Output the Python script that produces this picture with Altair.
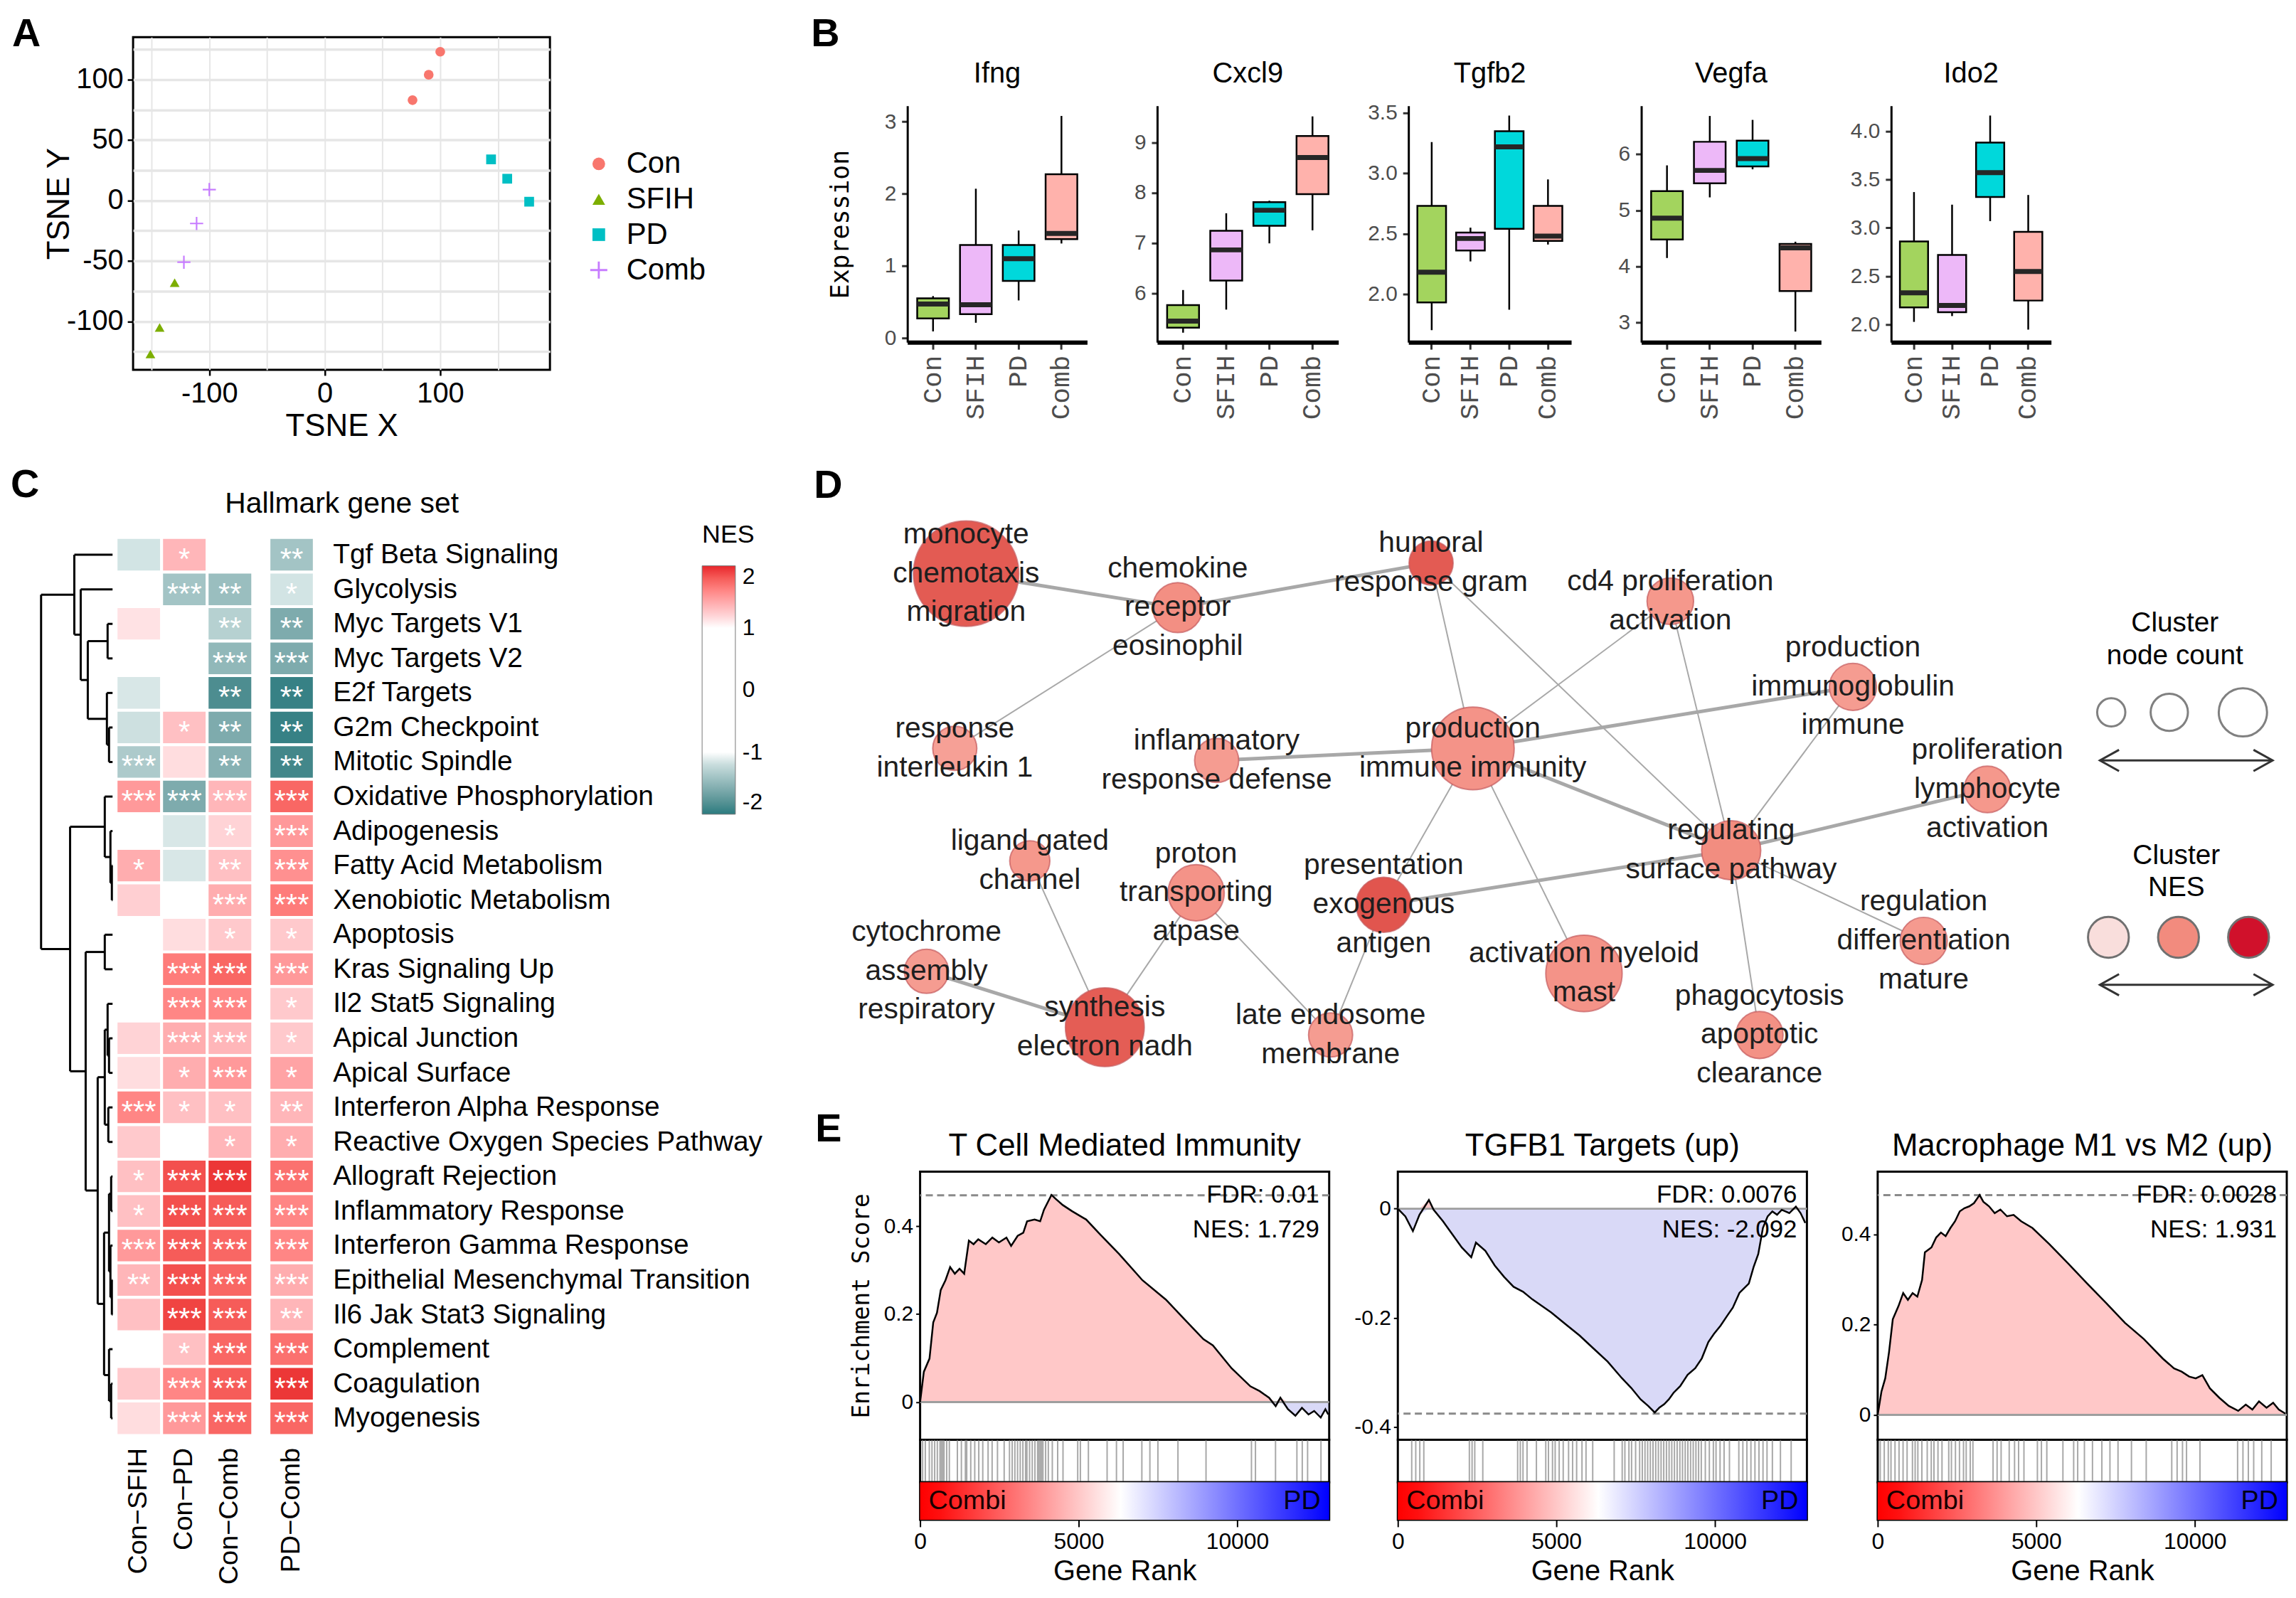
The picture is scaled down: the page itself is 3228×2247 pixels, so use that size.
import altair as alt
import pandas as pd

FONT = "Liberation Sans"
MONO = "Liberation Mono"
WIDE = "DejaVu Sans Mono"
ONE = pd.DataFrame({"v": [0]})

# ============================ DATA ============================
# ---- A: t-SNE ----
groups = ["Con", "SFIH", "PD", "Comb"]
tsne_group = ["Con", "Con", "Con", "SFIH", "SFIH", "SFIH", "PD", "PD", "PD", "Comb", "Comb", "Comb"]
tsne_x = [100, 90, 76, -151, -143, -130, 144, 158, 177, -100, -111, -122]
tsne_y = [123, 104, 83, -127, -105, -68, 34, 18, -1, 9, -19, -51]
tsne_colors = ["#F8766D", "#7CAE00", "#00BFC4", "#C77CFF"]

# ---- B: boxplots (order Con, SFIH, PD, Comb) ----
genes = ["Ifng", "Cxcl9", "Tgfb2", "Vegfa", "Ido2"]
box_lo = {"Ifng": [0.09, 0.21, 0.52, 1.31], "Cxcl9": [5.21, 5.67, 6.99, 7.25],
          "Tgfb2": [1.70, 2.27, 1.87, 2.41], "Vegfa": [4.15, 5.23, 5.73, 2.84],
          "Ido2": [2.03, 2.09, 3.07, 1.95]}
box_q1 = {"Ifng": [0.27, 0.33, 0.79, 1.37], "Cxcl9": [5.31, 6.25, 7.34, 7.97],
          "Tgfb2": [1.93, 2.36, 2.54, 2.44], "Vegfa": [4.48, 5.48, 5.78, 3.56],
          "Ido2": [2.18, 2.13, 3.32, 2.25]}
box_med = {"Ifng": [0.47, 0.46, 1.10, 1.45], "Cxcl9": [5.44, 6.86, 7.65, 8.70],
           "Tgfb2": [2.18, 2.46, 3.22, 2.48], "Vegfa": [4.86, 5.71, 5.92, 4.33],
           "Ido2": [2.33, 2.20, 3.57, 2.55]}
box_q3 = {"Ifng": [0.55, 1.29, 1.29, 2.27], "Cxcl9": [5.76, 7.24, 7.81, 9.13],
          "Tgfb2": [2.73, 2.51, 3.35, 2.73], "Vegfa": [5.34, 6.22, 6.24, 4.40],
          "Ido2": [2.86, 2.72, 3.88, 2.96]}
box_hi = {"Ifng": [0.58, 2.07, 1.49, 3.08], "Cxcl9": [6.06, 7.59, 7.84, 9.52],
          "Tgfb2": [3.26, 2.55, 3.48, 2.95], "Vegfa": [5.80, 6.68, 6.61, 4.44],
          "Ido2": [3.37, 3.24, 4.16, 3.34]}
box_colors = ["#A3D45E", "#EDB8F8", "#00D8DB", "#FFB2AC"]
b_dom = {"Ifng": [-0.06, 3.22], "Cxcl9": [5.02, 9.73], "Tgfb2": [1.60, 3.56],
         "Vegfa": [2.65, 6.86], "Ido2": [1.82, 4.26]}
b_ticks = {"Ifng": [0, 1, 2, 3], "Cxcl9": [6, 7, 8, 9], "Tgfb2": [2.0, 2.5, 3.0, 3.5],
           "Vegfa": [3, 4, 5, 6], "Ido2": [2.0, 2.5, 3.0, 3.5, 4.0]}
b_fmt = {"Ifng": "d", "Cxcl9": "d", "Tgfb2": ".1f", "Vegfa": "d", "Ido2": ".1f"}

# ---- C: hallmark heatmap ----
pathways = ["Tgf Beta Signaling", "Glycolysis", "Myc Targets V1", "Myc Targets V2", "E2f Targets",
            "G2m Checkpoint", "Mitotic Spindle", "Oxidative Phosphorylation", "Adipogenesis",
            "Fatty Acid Metabolism", "Xenobiotic Metabolism", "Apoptosis", "Kras Signaling Up",
            "Il2 Stat5 Signaling", "Apical Junction", "Apical Surface", "Interferon Alpha Response",
            "Reactive Oxygen Species Pathway", "Allograft Rejection", "Inflammatory Response",
            "Interferon Gamma Response", "Epithelial Mesenchymal Transition", "Il6 Jak Stat3 Signaling",
            "Complement", "Coagulation", "Myogenesis"]
contrasts = ["Con\u2212SFIH", "Con\u2212PD", "Con\u2212Comb", "PD\u2212Comb"]
nes_rows = [
    [-1.15, 1.35, 0.0, -1.4], [0.0, -1.4, -1.45, -1.15], [1.12, 0.0, -1.3, -1.6],
    [0.0, 0.0, -1.5, -1.6], [-1.12, 0.0, -1.85, -1.95], [-1.18, 1.3, -1.6, -1.95],
    [-1.35, 1.15, -1.55, -1.9], [1.5, -1.6, 1.35, 1.75], [0.0, -1.12, 1.2, 1.5],
    [1.4, -1.12, 1.3, 1.55], [1.22, -1.08, 1.4, 1.65], [0.0, 1.15, 1.25, 1.25],
    [0.0, 1.65, 1.75, 1.5], [0.0, 1.6, 1.6, 1.25], [1.2, 1.4, 1.35, 1.25],
    [1.15, 1.4, 1.5, 1.45], [1.6, 1.3, 1.3, 1.35], [1.25, 0.0, 1.35, 1.4],
    [1.3, 1.85, 1.95, 1.7], [1.3, 1.85, 1.8, 1.6], [1.5, 1.8, 1.75, 1.6],
    [1.35, 1.85, 1.75, 1.4], [1.3, 1.9, 1.8, 1.35], [0.0, 1.3, 1.75, 1.7],
    [1.25, 1.6, 1.8, 1.95], [1.15, 1.5, 1.75, 1.75]]
star_rows = [
    ["", "*", "", "**"], ["", "***", "**", "*"], ["", "", "**", "**"], ["", "", "***", "***"],
    ["", "", "**", "**"], ["", "*", "**", "**"], ["***", "", "**", "**"], ["***", "***", "***", "***"],
    ["", "", "*", "***"], ["*", "", "**", "***"], ["", "", "***", "***"], ["", "", "*", "*"],
    ["", "***", "***", "***"], ["", "***", "***", "*"], ["", "***", "***", "*"], ["", "*", "***", "*"],
    ["***", "*", "*", "**"], ["", "", "*", "*"], ["*", "***", "***", "***"], ["*", "***", "***", "***"],
    ["***", "***", "***", "***"], ["**", "***", "***", "***"], ["", "***", "***", "**"],
    ["", "*", "***", "***"], ["", "***", "***", "***"], ["", "***", "***", "***"]]
# dendrogram: [height, left, right]
dendro_tree = [101,
    [54, "Tgf Beta Signaling",
        [45, "Glycolysis",
            [35, [7, "Myc Targets V1", "Myc Targets V2"],
                 [8, "E2f Targets", [5, "G2m Checkpoint", "Mitotic Spindle"]]]]],
    [60,
        [11, "Oxidative Phosphorylation", [3, "Adipogenesis", [1, "Fatty Acid Metabolism", "Xenobiotic Metabolism"]]],
        [38, [11, "Apoptosis", "Kras Signaling Up"],
            [21, [11, [7, "Il2 Stat5 Signaling", [5, "Apical Junction", "Apical Surface"]],
                      [6, "Interferon Alpha Response", "Reactive Oxygen Species Pathway"]],
                 [12, [5, [2, "Allograft Rejection", "Inflammatory Response"],
                          [3, "Interferon Gamma Response", [1, "Epithelial Mesenchymal Transition", "Il6 Jak Stat3 Signaling"]]],
                      [5, "Complement", [2, "Coagulation", "Myogenesis"]]]]]]]

# ---- D: enrichment network (layout coordinates) ----
node_id = ["monocyte", "chemokine", "humoral", "cd4", "immunoglobulin", "interleukin", "inflammatory",
           "prod_immune", "lymphocyte", "regulating", "ligand", "proton", "presentation", "cytochrome",
           "synthesis", "endosome", "myeloid", "phagocytosis", "differentiation"]
node_label = ["monocyte\nchemotaxis\nmigration", "chemokine\nreceptor\neosinophil", "humoral\nresponse gram",
              "cd4 proliferation\nactivation", "production\nimmunoglobulin\nimmune", "response\ninterleukin 1",
              "inflammatory\nresponse defense", "production\nimmune immunity", "proliferation\nlymphocyte\nactivation",
              "regulating\nsurface pathway", "ligand gated\nchannel", "proton\ntransporting\natpase",
              "presentation\nexogenous\nantigen", "cytochrome\nassembly\nrespiratory", "synthesis\nelectron nadh",
              "late endosome\nmembrane", "activation myeloid\nmast", "phagocytosis\napoptotic\nclearance",
              "regulation\ndifferentiation\nmature"]
node_x = [1362, 1661, 2019, 2357, 2615, 1346, 1716, 2078, 2805, 2443, 1452, 1687, 1952, 1306, 1558, 1877, 2235, 2483, 2715]
node_y = [799, 847, 784, 838, 959, 1046, 1063, 1046, 1104, 1190, 1205, 1250, 1267, 1361, 1440, 1451, 1364, 1451, 1318]
node_count = [20, 4.5, 3.5, 3.9, 4.0, 3.5, 3.5, 12.3, 3.9, 6.3, 2.9, 5.7, 5.5, 3.5, 11.2, 3.5, 10.5, 4.0, 4.0]
node_nes = [2.0, 1.78, 2.0, 1.74, 1.72, 1.70, 1.72, 1.76, 1.74, 1.79, 1.74, 1.76, 2.02, 1.72, 1.99, 1.72, 1.76, 1.77, 1.73]
edge_list = [("monocyte", "chemokine", 2), ("chemokine", "humoral", 2), ("chemokine", "interleukin", 1),
             ("humoral", "prod_immune", 1), ("humoral", "regulating", 1), ("cd4", "prod_immune", 1),
             ("cd4", "regulating", 1), ("immunoglobulin", "prod_immune", 2), ("immunoglobulin", "regulating", 1),
             ("inflammatory", "prod_immune", 2), ("prod_immune", "regulating", 2), ("prod_immune", "presentation", 1),
             ("prod_immune", "myeloid", 1), ("regulating", "lymphocyte", 2), ("regulating", "presentation", 2),
             ("regulating", "differentiation", 1), ("regulating", "phagocytosis", 1), ("ligand", "synthesis", 1),
             ("proton", "synthesis", 1), ("proton", "endosome", 1), ("cytochrome", "synthesis", 2),
             ("presentation", "endosome", 1)]
nes_colors = ["#F9DEDC", "#F28B7E", "#D0112B"]
leg_count_vals = [1.43, 2.5, 4.2]
leg_count_x = [2980, 3062, 3166]
leg_nes_vals = [1.4, 1.8, 2.2]
leg_nes_x = [2976, 3075, 3174]
leg_titles = ["Cluster\nnode count", "Cluster\nNES"]
leg_title_pos = [(3070, 892), (3072, 1220)]
leg_row_y = [995, 1313]
leg_arrow_y = [1063, 1380]
leg_arrow_x = [2964, 3208]

# ---- E: GSEA ----
gsea_titles = ["T Cell Mediated Immunity", "TGFB1 Targets (up)", "Macrophage M1 vs M2 (up)"]
gsea_fdr = ["FDR: 0.01", "FDR: 0.0076", "FDR: 0.0028"]
gsea_nes = ["NES: 1.729", "NES: -2.092", "NES: 1.931"]
gsea_peak = [0.47, -0.375, 0.487]
gsea_dom = [[-0.0855, 0.524], [-0.423, 0.068], [-0.055, 0.539]]
gsea_ticks = [[0, 0.2, 0.4], [-0.4, -0.2, 0], [0, 0.2, 0.4]]
es1 = [(0, 0), (118, 0.069), (296, 0.099), (414, 0.181), (532, 0.203), (651, 0.255), (800, 0.277),
       (947, 0.307), (1095, 0.292), (1243, 0.303), (1390, 0.292), (1538, 0.367), (1686, 0.359),
       (1834, 0.370), (2071, 0.359), (2278, 0.374), (2485, 0.363), (2722, 0.374), (2870, 0.355),
       (3077, 0.378), (3254, 0.385), (3373, 0.411), (3609, 0.415), (3787, 0.411), (3905, 0.437),
       (4142, 0.471), (4260, 0.463), (4497, 0.448), (4793, 0.434), (5237, 0.415), (5680, 0.381),
       (6272, 0.337), (7012, 0.277), (7751, 0.233), (8343, 0.188), (8935, 0.143), (9231, 0.129),
       (9822, 0.077), (10414, 0.036), (10710, 0.025), (11006, 0.010), (11213, -0.009), (11361, 0.010),
       (11598, -0.016), (11834, -0.031), (12041, -0.013), (12249, -0.028), (12426, -0.020),
       (12633, -0.035), (12781, -0.016), (12870, -0.028)]
es2 = [(0, 0), (237, -0.014), (475, -0.041), (683, -0.011), (979, 0.016), (1128, -0.002), (1424, -0.023),
       (1721, -0.047), (2018, -0.071), (2315, -0.089), (2463, -0.062), (2760, -0.077), (3056, -0.104),
       (3353, -0.125), (3650, -0.143), (3947, -0.152), (4243, -0.166), (4540, -0.178), (4837, -0.190),
       (5282, -0.211), (5727, -0.232), (6172, -0.256), (6617, -0.280), (7062, -0.310), (7359, -0.328),
       (7656, -0.349), (7893, -0.361), (8101, -0.373), (8249, -0.364), (8398, -0.358), (8546, -0.349),
       (8694, -0.337), (8902, -0.325), (9139, -0.304), (9377, -0.292), (9585, -0.274), (9792, -0.244),
       (9970, -0.229), (10178, -0.214), (10386, -0.196), (10564, -0.181), (10772, -0.154), (11068, -0.137),
       (11217, -0.107), (11365, -0.083), (11513, -0.035), (11662, -0.014), (11810, -0.005), (11958, -0.011),
       (12107, -0.002), (12344, -0.008), (12552, 0.004), (12700, -0.008), (12849, -0.026)]
es3 = [(0, 0), (119, 0.052), (238, 0.081), (357, 0.139), (476, 0.212), (655, 0.241), (804, 0.270),
       (952, 0.255), (1101, 0.270), (1250, 0.262), (1399, 0.299), (1488, 0.360), (1696, 0.371),
       (1845, 0.393), (1994, 0.404), (2143, 0.396), (2292, 0.414), (2440, 0.429), (2589, 0.451),
       (2738, 0.458), (2887, 0.462), (3036, 0.469), (3214, 0.487), (3333, 0.472), (3512, 0.462),
       (3690, 0.447), (3869, 0.455), (4077, 0.440), (4286, 0.443), (4524, 0.429), (4881, 0.414),
       (5417, 0.378), (6012, 0.335), (6607, 0.291), (7202, 0.248), (7798, 0.204), (8393, 0.168),
       (8988, 0.125), (9345, 0.103), (9583, 0.096), (9821, 0.085), (10030, 0.081), (10238, 0.088),
       (10476, 0.059), (10774, 0.038), (11071, 0.020), (11369, 0.009), (11607, 0.023), (11815, 0.012),
       (12024, 0.030), (12262, 0.016), (12470, 0.027), (12649, 0.012), (12857, 0.003)]
hits1 = [79, 164, 290, 374, 459, 543, 627, 669, 712, 754, 838, 922, 1175, 1302, 1428, 1470, 1597, 1723,
         1850, 1976, 2144, 2271, 2440, 2651, 2819, 2904, 2988, 3073, 3157, 3241, 3326, 3368, 3452, 3537,
         3621, 3705, 3747, 3790, 3832, 3874, 3958, 4043, 4169, 4338, 4506, 4970, 5054, 5307, 5897, 6192,
         6403, 6993, 7246, 7499, 8131, 9016, 10449, 10575, 11208, 11882, 12051, 12219, 12641]
hits2 = [438, 565, 692, 819, 2256, 2341, 2426, 2679, 3778, 3862, 3947, 4074, 4370, 4665, 4750, 4877, 4961,
         5088, 5215, 5384, 5511, 5638, 5807, 5934, 6145, 6822, 7075, 7160, 7287, 7371, 7498, 7625, 7709,
         7794, 7878, 7963, 8047, 8132, 8216, 8301, 8385, 8470, 8554, 8639, 8723, 8808, 8893, 8977, 9062,
         9146, 9231, 9315, 9400, 9484, 9569, 9696, 9823, 9950, 10034, 10161, 10288, 10457, 10753, 10880,
         11007, 11134, 11261, 11388, 11515, 11642, 11811, 12065, 12403]
hits3 = [80, 207, 334, 419, 546, 673, 800, 927, 1096, 1181, 1266, 1393, 1562, 1689, 1774, 1901, 2028, 2240,
         2325, 2452, 2579, 2706, 2791, 2918, 3003, 3638, 3765, 3892, 4147, 4316, 4443, 4612, 5036, 5163,
         5333, 5841, 6180, 6307, 6519, 6773, 7069, 7324, 7578, 8002, 8468, 9273, 9442, 9612, 9739, 10163,
         11349, 11518, 11688, 11857, 12111, 12408]
gene_rank_max = 12900


# ============================ HELPERS ============================
def ind(c):
    return c.resolve_scale(color="independent", shape="independent", size="independent",
                           strokeWidth="independent")


def frame():
    return alt.ViewBackground(stroke="black", strokeWidth=3)


def box_rect(x1, x2, y1, y2):
    # invisible extent marker, keeps the layout bounds of a view predictable
    return alt.Chart(ONE).mark_rect(opacity=0).encode(
        x=alt.value(x1), x2=alt.value(x2), y=alt.value(y1), y2=alt.value(y2))


def letter(t, x, y):
    return alt.Chart(pd.DataFrame({"t": [t]})).mark_text(
        align="left", baseline="middle", fontSize=56, fontWeight="bold", font=FONT, color="black"
    ).encode(text="t:N", x=alt.value(x), y=alt.value(y))


def label(t, x, y, size, align="center"):
    return alt.Chart(pd.DataFrame({"t": [t]})).mark_text(
        align=align, baseline="middle", fontSize=size, font=FONT, color="black"
    ).encode(text="t:N", x=alt.value(x), y=alt.value(y))


def spacer(w, h, extra=None):
    base = alt.Chart(ONE).mark_point(opacity=0, size=0).encode(x=alt.value(0), y=alt.value(0))
    return alt.layer(base, *(extra or [])).properties(width=w, height=h)


# ============================ PANEL A ============================
plus_path = ("M-1.35,-0.16L-0.16,-0.16L-0.16,-1.35L0.16,-1.35L0.16,-0.16L1.35,-0.16L1.35,0.16"
             "L0.16,0.16L0.16,1.35L-0.16,1.35L-0.16,0.16L-1.35,0.16Z")
tsne_df = pd.DataFrame({"group": tsne_group, "tx": tsne_x, "ty": tsne_y})
leg_a = dict(title=None, orient="none", legendX=637, legendY=158, labelFontSize=42, symbolSize=320,
             rowPadding=8, labelOffset=18, symbolStrokeWidth=0, labelFont=FONT)
pts = alt.Chart(tsne_df).mark_point(filled=True, size=190, opacity=1).encode(
    x=alt.X("tx:Q", scale=alt.Scale(domain=[-166, 195], nice=False, zero=False),
            axis=alt.Axis(values=[-150, -100, -50, 0, 50, 100, 150],
                          labelExpr="datum.value % 100 === 0 ? '' + datum.value : ''",
                          tickOpacity={"condition": {"test": "datum.value % 100 === 0", "value": 1}, "value": 0},
                          grid=True, gridColor="#E6E6E6", gridWidth=2, domain=False, tickColor="black",
                          tickSize=8, tickWidth=2.5, labelFontSize=40, labelPadding=6, labelFlush=False,
                          title="TSNE X", titleFontSize=44, titlePadding=4)),
    y=alt.Y("ty:Q", scale=alt.Scale(domain=[-140, 135], nice=False, zero=False),
            axis=alt.Axis(values=list(range(-125, 126, 25)),
                          labelExpr="datum.value % 50 === 0 ? '' + datum.value : ''",
                          tickOpacity={"condition": {"test": "datum.value % 50 === 0", "value": 1}, "value": 0},
                          grid=True, gridColor="#E6E6E6", gridWidth=3.5, domain=False, tickColor="black",
                          tickSize=8, tickWidth=2.5, labelFontSize=40, labelPadding=6, labelFlush=False,
                          title="TSNE Y", titleFontSize=44, titlePadding=-12)),
    color=alt.Color("group:N", scale=alt.Scale(domain=groups, range=tsne_colors), legend=alt.Legend(**leg_a)),
    shape=alt.Shape("group:N", scale=alt.Scale(domain=groups, range=["circle", "triangle-up", "square", plus_path]),
                    legend=alt.Legend(**leg_a)),
)
panel_a = alt.layer(pts, letter("A", -171, -4), box_rect(0, 1, 0, 594)).properties(
    width=589, height=470, view=frame())
a_row = ind(alt.hconcat(spacer(130, 1), panel_a, spacing=0, bounds="flush"))

# ============================ PANEL B ============================
b_width = [254, 256, 230, 254, 226]


def box_panel(i, gene):
    df = pd.DataFrame({"group": groups, "lo": box_lo[gene], "q1": box_q1[gene], "med": box_med[gene],
                       "q3": box_q3[gene], "hi": box_hi[gene]})
    w = b_width[i]
    xenc = alt.X("group:N", sort=groups, scale=alt.Scale(paddingInner=0.26, paddingOuter=0.23),
                 axis=alt.Axis(title=None, labelAngle=270, labelFont=MONO, labelFontSize=38,
                               labelColor="#4D4D4D", domainColor="black", domainWidth=6,
                               tickColor="#333333", tickWidth=3, tickSize=10, labelPadding=8))
    ysc = alt.Scale(domain=b_dom[gene], nice=False, zero=False)
    yax = alt.Axis(values=b_ticks[gene], format=b_fmt[gene], grid=False, domainColor="black",
                   domainWidth=3, tickColor="#333333", tickWidth=3, tickSize=8, labelColor="#4D4D4D",
                   labelFontSize=30, labelPadding=8, labelFlush=False,
                   title="Expression" if i == 0 else None, titleFont=WIDE, titleFontSize=35,
                   titleFontWeight="normal", titlePadding=44)
    base = alt.Chart(df).encode(x=xenc)
    whisk = base.mark_rule(color="black", strokeWidth=2.5).encode(
        y=alt.Y("lo:Q", scale=ysc, axis=yax), y2="hi:Q")
    box = base.mark_bar(stroke="black", strokeWidth=2.5, opacity=1).encode(
        y="q1:Q", y2="q3:Q",
        color=alt.Color("group:N", scale=alt.Scale(domain=groups, range=box_colors), legend=None))
    med = base.mark_tick(color="#262626", thickness=7, size=w * 0.74 / 4.2, opacity=1).encode(y="med:Q")
    return alt.layer(whisk, box, med, label(gene, w / 2, -45, 40), box_rect(0, 1, -70, 489)).properties(
        width=w, height=334)


b_row = ind(alt.hconcat(spacer(27, 1), *[box_panel(i, g) for i, g in enumerate(genes)],
                        spacing=99, bounds="flush"))
sp_b = spacer(1, 25, [letter("B", -10, -4)])

# ============================ PANEL C ============================
def dendro_segments(tree, order):
    segs = []

    def walk(node):
        if isinstance(node, str):
            return 0.0, float(order.index(node))
        h, left, right = node
        hl, yl = walk(left)
        hr, yr = walk(right)
        segs.append({"x": h, "x2": h, "y": yl, "y2": yr})
        segs.append({"x": hl, "x2": h, "y": yl, "y2": yl})
        segs.append({"x": hr, "x2": h, "y": yr, "y2": yr})
        return h, (yl + yr) / 2

    walk(tree)
    return pd.DataFrame(segs)


dseg = dendro_segments(dendro_tree, pathways)
dendro_lines = alt.Chart(dseg).mark_rule(color="black", strokeWidth=3).encode(
    x=alt.X("x:Q", scale=alt.Scale(domain=[0, 101], reverse=True, nice=False, zero=False), axis=None),
    x2="x2:Q",
    y=alt.Y("y:Q", scale=alt.Scale(domain=[-0.5, 25.5], reverse=True, nice=False, zero=False), axis=None),
    y2="y2:Q")
dendro = alt.layer(dendro_lines, letter("C", -43, -74), box_rect(0, 1, -110, 0)).properties(
    width=101, height=1269)

heat_records = []
for r, pw in enumerate(pathways):
    for c, ct in enumerate(contrasts):
        heat_records.append({"pathway": pw, "contrast": ct, "nes": nes_rows[r][c], "star": star_rows[r][c]})
heat_df = pd.DataFrame(heat_records)
nes_scale = alt.Scale(domain=[-2, -1.1, -1.09, 1.09, 1.1, 2],
                      range=["#2B7B7F", "#DCEAEA", "#FFFFFF", "#FFFFFF", "#FFE6E8", "#E8262B"])


def heat_chart(cols, width, right_axis, legend, extra):
    df = heat_df[heat_df["contrast"].isin(cols)]
    yax = (alt.Axis(orient="right", title=None, labelFontSize=39, labelPadding=26, ticks=False,
                    domain=False, labelLimit=2000, labelColor="black")
           if right_axis else None)
    base = alt.Chart(df).encode(
        x=alt.X("contrast:N", sort=cols, scale=alt.Scale(paddingInner=0, paddingOuter=0),
                axis=alt.Axis(title=None, labelAngle=270, labelFontSize=38, ticks=False, domain=False,
                              labelPadding=17, labelLimit=2000, labelColor="black")),
        y=alt.Y("pathway:N", sort=pathways, scale=alt.Scale(paddingInner=0, paddingOuter=0), axis=yax))
    rect = base.mark_rect(stroke="white", strokeWidth=4).encode(
        color=alt.Color("nes:Q", scale=nes_scale, legend=legend))
    txt = base.mark_text(color="white", fontSize=42, dy=7, font=FONT).encode(text="star:N")
    return alt.layer(rect, txt, *extra).properties(width=width, height=1269)


nes_legend = alt.Legend(title="NES", orient="none", legendX=612, legendY=-21, direction="vertical",
                        gradientLength=351, gradientThickness=47, values=[-2, -1, 0, 1, 2],
                        labelExpr="'' + datum.value",
                        labelFontSize=32, titleFontSize=36, titleFontWeight="normal", titlePadding=25,
                        labelOffset=10, gradientStrokeColor="#777777", gradientStrokeWidth=1,
                        titleFont=FONT, labelFont=FONT)
heat123 = heat_chart(contrasts[:3], 193, False, None, [label("Hallmark gene set", 319, -47, 41)])
heat4 = heat_chart(contrasts[3:], 64, True, nes_legend, [box_rect(0, 764, 0, 1)])
c_row = ind(alt.hconcat(dendro, heat123, spacer(13, 1), heat4, spacing=5, bounds="flush"))

# ============================ PANEL D ============================
nodes_df = pd.DataFrame({"id": node_id, "label": node_label, "lx": node_x, "ly": node_y,
                         "cnt": node_count, "nes": node_nes,
                         "n": [s.count("\n") + 1 for s in node_label]})
pos = dict(zip(node_id, zip(node_x, node_y)))
erec = []
for k, (s, t, w) in enumerate(edge_list):
    erec.append({"edge": k, "lx": pos[s][0], "ly": pos[s][1], "w": w})
    erec.append({"edge": k, "lx": pos[t][0], "ly": pos[t][1], "w": w})
edges_df = pd.DataFrame(erec)

xsD = alt.Scale(domain=[1153, 3216], nice=False, zero=False)
ysD = alt.Scale(domain=[659, 1544], reverse=True, nice=False, zero=False)
size_sc = alt.Scale(domain=[0, 20], range=[0, 22167])
col_sc = alt.Scale(domain=[1.4, 1.8, 2.2], range=nes_colors)
XD = alt.X("lx:Q", scale=xsD, axis=None)
YD = alt.Y("ly:Q", scale=ysD, axis=None)

d_edges = alt.Chart(edges_df).mark_line(color="#A8A8A8").encode(
    x=XD, y=YD, detail="edge:N",
    strokeWidth=alt.StrokeWidth("w:Q", scale=alt.Scale(domain=[1, 2], range=[2, 5]), legend=None))
d_nodes = alt.Chart(nodes_df).mark_circle(opacity=1, stroke="#C45A5C", strokeWidth=2, strokeOpacity=0.7).encode(
    x=XD, y=YD, size=alt.Size("cnt:Q", scale=size_sc, legend=None),
    color=alt.Color("nes:Q", scale=col_sc, legend=None))
LINE_H = 55
d_labels = [
    alt.Chart(nodes_df).transform_filter(f"datum.n == {n}").mark_text(
        fontSize=41, lineHeight=LINE_H, lineBreak="\n", font=FONT, color="#1E1E1E", align="center",
        baseline="middle", dy=-(n - 1) * LINE_H / 2).encode(x=XD, y=YD, text="label:N")
    for n in (2, 3)]
lc_df = pd.DataFrame({"lx": leg_count_x, "ly": [leg_row_y[0]] * 3, "cnt": leg_count_vals})
d_leg_count = alt.Chart(lc_df).mark_point(shape="circle", filled=False, color="#808080", strokeWidth=3,
                                          opacity=1).encode(
    x=XD, y=YD, size=alt.Size("cnt:Q", scale=size_sc, legend=None))
ln_df = pd.DataFrame({"lx": leg_nes_x, "ly": [leg_row_y[1]] * 3, "nes": leg_nes_vals, "cnt": [3.0] * 3})
d_leg_nes = alt.Chart(ln_df).mark_circle(opacity=1, stroke="#707070", strokeWidth=3).encode(
    x=XD, y=YD, size=alt.Size("cnt:Q", scale=size_sc, legend=None),
    color=alt.Color("nes:Q", scale=col_sc, legend=None))
lt_df = pd.DataFrame({"t": leg_titles, "lx": [p[0] for p in leg_title_pos], "ly": [p[1] for p in leg_title_pos]})
d_leg_txt = alt.Chart(lt_df).mark_text(fontSize=39, lineHeight=46, lineBreak="\n", font=FONT,
                                       align="center", baseline="middle", color="black", dy=-23).encode(
    x=XD, y=YD, text="t:N")
arec = []
x0, x1 = leg_arrow_x
for a, ya in enumerate(leg_arrow_y):
    arec += [{"id": f"s{a}", "k": 0, "lx": x0, "ly": ya}, {"id": f"s{a}", "k": 1, "lx": x1, "ly": ya}]
    arec += [{"id": f"l{a}", "k": 0, "lx": x0 + 27, "ly": ya - 15}, {"id": f"l{a}", "k": 1, "lx": x0, "ly": ya},
             {"id": f"l{a}", "k": 2, "lx": x0 + 27, "ly": ya + 15}]
    arec += [{"id": f"r{a}", "k": 0, "lx": x1 - 27, "ly": ya - 15}, {"id": f"r{a}", "k": 1, "lx": x1, "ly": ya},
             {"id": f"r{a}", "k": 2, "lx": x1 - 27, "ly": ya + 15}]
d_arrows = alt.Chart(pd.DataFrame(arec)).mark_line(color="#333333", strokeWidth=3).encode(
    x=XD, y=YD, detail="id:N", order="k:Q")
panel_d = alt.layer(d_edges, d_nodes, *d_labels, d_leg_count, d_leg_nes, d_leg_txt, d_arrows,
                    letter("D", -6, 16), box_rect(0, 1, -30, 0)).properties(width=2063, height=885)

# ============================ PANEL E ============================
xsE = alt.Scale(domain=[0, gene_rank_max], nice=False, zero=False)
cbar_grad = alt.Gradient(gradient="linear", x1=0, x2=1, y1=0, y2=0, stops=[
    alt.GradientStop(color="#FF0000", offset=0), alt.GradientStop(color="#FF1010", offset=0.05),
    alt.GradientStop(color="#FFFFFF", offset=0.49), alt.GradientStop(color="#0000FF", offset=1)])
e_box = [(-105, 600), (-71, 600), (-74, 578)]


def gsea_panel(i, es_pts, hits):
    df = pd.DataFrame(es_pts, columns=["rank", "es"])
    ys = alt.Scale(domain=gsea_dom[i], nice=False, zero=False)
    yax = alt.Axis(values=gsea_ticks[i], labelExpr="'' + datum.value", grid=False, domain=False,
                   tickColor="black", tickSize=6, tickWidth=2, labelFontSize=30, labelPadding=4,
                   labelFlush=False, title="Enrichment Score" if i == 0 else None, titleFont=WIDE,
                   titleFontSize=33, titleFontWeight="normal", titlePadding=14)
    X = alt.X("rank:Q", scale=xsE, axis=None)
    base = alt.Chart(df).encode(x=X)
    pos_a = base.transform_calculate(p="max(datum.es, 0)").mark_area(color="#FFC8C8", opacity=1).encode(
        y=alt.Y("p:Q", scale=ys, axis=yax), y2=alt.datum(0))
    neg_a = base.transform_calculate(n="min(datum.es, 0)").mark_area(color="#D9D9F7", opacity=1).encode(
        y="n:Q", y2=alt.datum(0))
    zero = alt.Chart(ONE).mark_rule(color="#9E9E9E", strokeWidth=3).encode(y=alt.datum(0))
    peak = alt.Chart(ONE).mark_rule(color="#8A8A8A", strokeWidth=3, strokeDash=[10, 6]).encode(
        y=alt.datum(gsea_peak[i]))
    line = base.mark_line(color="black", strokeWidth=2.5).encode(y="es:Q")
    t1 = label(gsea_fdr[i], 564, 33, 35, "right")
    t2 = label(gsea_nes[i], 564, 82, 35, "right")
    ttl = label(gsea_titles[i], 289, -35, 44)
    bx1, bx2 = e_box[i]
    es = alt.layer(pos_a, neg_a, zero, peak, line, t1, t2, ttl, box_rect(bx1, bx2, -97, 0)).properties(
        width=578, height=379, view=frame())
    hit = alt.Chart(pd.DataFrame({"rank": hits})).mark_rule(color="#7A7A7A", strokeWidth=2, opacity=0.65).encode(
        x=X).properties(width=578, height=60, view=frame())
    cb_rect = alt.Chart(pd.DataFrame({"r0": [0], "r1": [gene_rank_max]})).mark_rect(color=cbar_grad).encode(
        x=alt.X("r0:Q", scale=xsE,
                axis=alt.Axis(values=[0, 5000, 10000], format="d", grid=False, domain=False,
                              tickColor="black", tickSize=10, tickWidth=2, labelFontSize=32,
                              labelPadding=6, labelFlush=False, title="Gene Rank", titleFontSize=40,
                              titlePadding=6)),
        x2="r1:Q", y=alt.value(0), y2=alt.value(53))
    tc = alt.Chart(pd.DataFrame({"t": ["Combi"]})).mark_text(
        align="left", baseline="middle", fontSize=38, font=FONT, color="#1A0000").encode(
        text="t:N", x=alt.value(12), y=alt.value(27))
    tp = alt.Chart(pd.DataFrame({"t": ["PD"]})).mark_text(
        align="right", baseline="middle", fontSize=38, font=FONT, color="#00001A").encode(
        text="t:N", x=alt.value(566), y=alt.value(27))
    cb = alt.layer(cb_rect, tc, tp).properties(width=578, height=53, view=frame())
    return ind(alt.vconcat(es, hit, cb, spacing=0, bounds="flush"))


e_panels = [gsea_panel(0, es1, hits1), gsea_panel(1, es2, hits2), gsea_panel(2, es3, hits3)]
e_row = ind(alt.hconcat(spacer(36, 1, [letter("E", -4, -60)]), *e_panels, spacing=0))

# ============================ ASSEMBLY ============================
left_col = ind(alt.vconcat(a_row, c_row, spacing=0))
right_col = ind(alt.vconcat(sp_b, b_row, panel_d, e_row, spacing=0))
chart = ind(alt.hconcat(left_col, right_col, spacing=0)).properties(
    padding={"left": 6, "top": 5, "right": 0, "bottom": 2}
).configure(font=FONT).configure_view(stroke="transparent").configure_axis(
    labelFont=FONT, titleFont=FONT, titleFontWeight="normal", labelColor="black", titleColor="black"
).configure_title(font=FONT, fontWeight="normal")

chart.save("out.html", embed_options={"renderer": "svg", "actions": False})
